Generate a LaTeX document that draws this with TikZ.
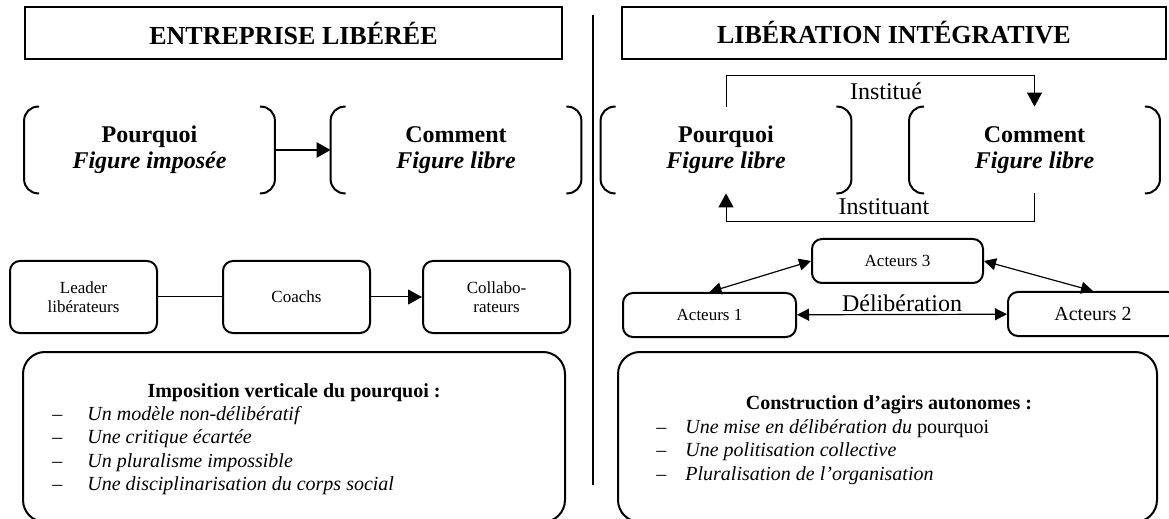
\documentclass[tikz,border=0pt]{standalone}
\usepackage{fontspec}
\setmainfont{Liberation Serif}
\usetikzlibrary{arrows.meta,positioning}

\begin{document}
\begin{tikzpicture}[
    x=0.5pt, y=-0.5pt,
    titlebox/.style={rectangle, draw, line width=1.4pt, minimum height=26pt,
                font=\fontsize{13}{15}\selectfont\bfseries},
    duo/.style={rectangle, minimum width=125pt, minimum height=43pt, align=center,
                font=\fontsize{12}{13}\selectfont\bfseries},
    bracket/.style={line width=1pt, rounded corners=7pt},
    actor/.style={rectangle, draw, line width=1pt, rounded corners=5pt,
                minimum height=22pt, font=\fontsize{8.5}{9.5}\selectfont},
    stage/.style={actor, minimum width=73.5pt, minimum height=36pt, align=center},
    bigbox/.style={rectangle, draw, line width=1pt, rounded corners=11pt, minimum height=85pt},
    heading/.style={font=\fontsize{10}{12}\selectfont\bfseries},
    itemlist/.style={align=left, anchor=north west, inner sep=0pt,
                font=\fontsize{10}{11.7}\selectfont\itshape},
    flowtext/.style={font=\fontsize{12}{14}\selectfont, inner sep=1pt},
    arrow/.style={-{Triangle[length=7pt,width=7.5pt]}, line width=0.5pt},
    twoway/.style={{Triangle[length=6pt,width=6pt]}-{Triangle[length=6pt,width=6pt]}, line width=0.6pt}
]
    \useasboundingbox (0,0) rectangle (1169,519);
    \clip (0,0) rectangle (1169,519);

    % titles and divider
    \node[titlebox, minimum width=268.5pt] (titleL) at (293.5,33) {ENTREPRISE LIBÉRÉE};
    \node[titlebox, minimum width=272pt] (titleR) at (894,33) {LIBÉRATION INTÉGRATIVE};
    \coordinate (divtop) at (593,15);
    \coordinate (divbot) at (593,485);
    \draw[line width=0.6pt] (divtop) -- (divbot);

    % pourquoi / comment
    \node[duo] (whyL) at (149.5,150) {Pourquoi\\\textit{Figure imposée}};
    \node[duo] (howL) at (456,150) {Comment\\\textit{Figure libre}};
    \node[duo] (whyR) at (726,150) {Pourquoi\\\textit{Figure libre}};
    \node[duo] (howR) at (1034.5,150) {Comment\\\textit{Figure libre}};
    \foreach \n in {whyL,howL,whyR,howR}{
        \draw[bracket] ([xshift=7.5pt]\n.north west) -- (\n.north west) -- (\n.south west) -- ([xshift=7.5pt]\n.south west);
        \draw[bracket] ([xshift=-7.5pt]\n.north east) -- (\n.north east) -- (\n.south east) -- ([xshift=-7.5pt]\n.south east);
    }
    \draw[arrow, line width=1.3pt] (whyL) -- (howL);

    \coordinate (upL) at ([yshift=15.5pt]whyR.north);
    \draw[arrow] (whyR.north) -- (upL) -| (howR.north);
    \node[flowtext] (institue) at (886,91) {Institué};
    \coordinate (downR) at ([yshift=-14pt]howR.south);
    \draw[arrow] (howR.south) -- (downR) -| (whyR.south);
    \node[flowtext] (instituant) at (884,207) {Instituant};

    % chain of actors (left)
    \node[stage] (leader) at (83.5,297) {Leader\\libérateurs};
    \node[stage, right=32pt of leader] (coachs) {Coachs};
    \node[stage, right=25.5pt of coachs] (collab) {Collabo-\\rateurs};
    \draw[line width=0.5pt] (leader) -- (coachs);
    \draw[arrow] (coachs) -- (collab);

    % deliberating actors (right)
    \node[actor, minimum width=86.5pt] (act1) at (709.5,315) {Acteurs 1};
    \node[actor, minimum width=85.5pt] (act3) at (897.5,261) {Acteurs 3};
    \node[actor, minimum width=85pt, font=\fontsize{10}{12}\selectfont] (act2) at (1093,314) {Acteurs 2};
    \draw[twoway] (act1) -- node[flowtext, above] (delib) {Délibération} (act2);
    \draw[twoway] (act1.north) -- (act3.west);
    \draw[twoway] (act3.east) -- (act2.north);

    % summary boxes
    \node[bigbox, minimum width=271pt] (boxL) at (294,437) {};
    \node[bigbox, minimum width=269.5pt] (boxR) at (887.5,437) {};
    \node[heading] (headL) at (294,393) {Imposition verticale du pourquoi :};
    \node[itemlist] (listL) at (52,406) {%
        \makebox[17.5pt][l]{\upshape –}Un modèle non-délibératif\\
        \makebox[17.5pt][l]{\upshape –}Une critique écartée\\
        \makebox[17.5pt][l]{\upshape –}Un pluralisme impossible\\
        \makebox[17.5pt][l]{\upshape –}Une disciplinarisation du corps social};
    \node[heading] (headR) at (889,405) {Construction d’agirs autonomes :};
    \node[itemlist] (listR) at (656,419) {%
        \makebox[14.5pt][l]{\upshape –}Une mise en délibération du {\upshape pourquoi}\\
        \makebox[14.5pt][l]{\upshape –}Une politisation collective\\
        \makebox[14.5pt][l]{\upshape –}Pluralisation de l’organisation};
\end{tikzpicture}
\end{document}
